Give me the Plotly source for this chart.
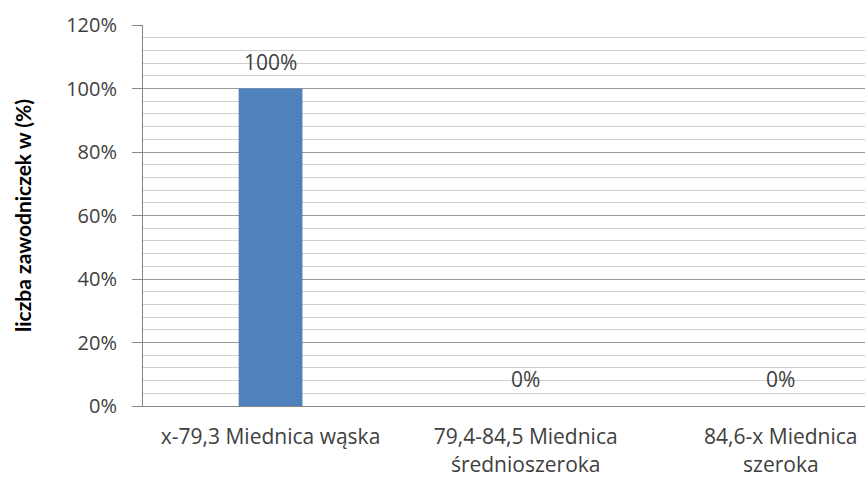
import plotly.graph_objects as go

# Pelvis width groups and share of athletes in each
categories = ["x-79,3 Miednica wąska", "79,4-84,5 Miednica<br>średnioszeroka", "84,6-x Miednica<br>szeroka"]
shares = [1.00, 0.00, 0.00]
value_labels = ["100%", "0%", "0%"]
y_tick_vals = [0, 0.2, 0.4, 0.6, 0.8, 1.0, 1.2]
y_tick_text = ["0%", "20%", "40%", "60%", "80%", "100%", "120%"]

FONT = "Open Sans"
TEXT_COLOR = "#404040"

fig = go.Figure()
fig.add_trace(go.Bar(
    x=list(range(len(categories))),
    y=shares,
    width=0.25,
    marker=dict(color="#4F81BD", line=dict(width=0)),
    hoverinfo="skip",
))

for i, (v, lab) in enumerate(zip(shares, value_labels)):
    fig.add_annotation(
        x=i, y=v, text=lab, showarrow=False,
        yanchor="bottom", yshift=11,
        font=dict(family=FONT, size=21, color=TEXT_COLOR),
    )

fig.update_layout(
    width=865, height=481,
    margin=dict(l=143, r=0, t=25, b=75),
    paper_bgcolor="white", plot_bgcolor="white",
    showlegend=False,
    font=dict(family=FONT, size=20, color=TEXT_COLOR),
)

fig.update_xaxes(
    range=[-0.5, 2.33],
    tickmode="array",
    tickvals=list(range(len(categories))),
    ticktext=categories,
    ticks="",
    showgrid=False,
    showline=True, linecolor="#868686", linewidth=1,
    ticklabelstandoff=12,
    tickfont=dict(family=FONT, size=21, color=TEXT_COLOR),
    zeroline=False,
)

fig.update_yaxes(
    range=[0, 1.2],
    tickmode="array",
    tickvals=y_tick_vals,
    ticktext=y_tick_text,
    ticks="outside", ticklen=10, tickcolor="#868686",
    showline=True, linecolor="#868686", linewidth=1,
    showgrid=True, gridcolor="#9a9a9a", gridwidth=1,
    minor=dict(dtick=0.04, tick0=0, showgrid=True, gridcolor="#cfcfcf", gridwidth=1, ticks=""),
    zeroline=False,
    ticklabelstandoff=11,
    tickfont=dict(family=FONT, size=20, color=TEXT_COLOR),
    title=dict(
        text="liczba zawodniczek w (%)",
        font=dict(family="Lato", size=21, color="#000000", weight="bold"),
        standoff=28,
    ),
)

fig.write_html("out.html")
